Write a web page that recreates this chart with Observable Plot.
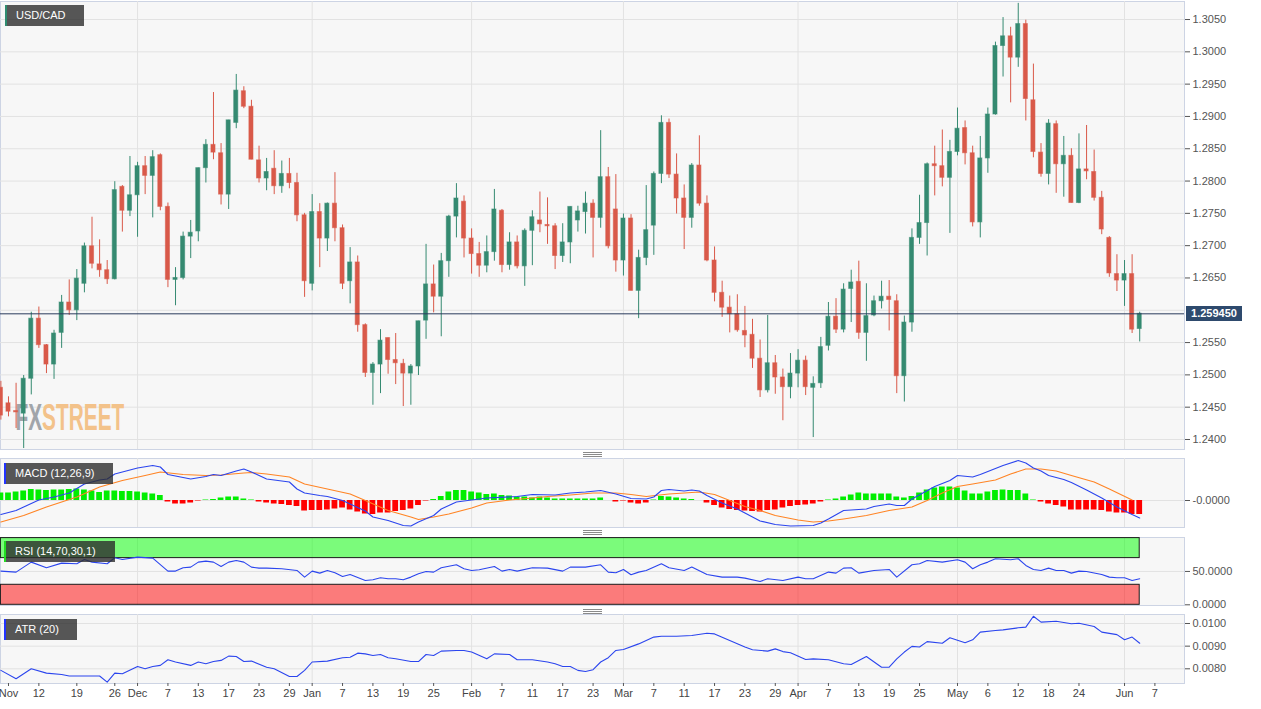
<!DOCTYPE html>
<html>
<head>
<meta charset="utf-8">
<script src="https://cdn.jsdelivr.net/npm/d3@7"></script>
<script src="https://cdn.jsdelivr.net/npm/@observablehq/plot@0.6"></script>
<style>
html,body{margin:0;padding:0;background:#ffffff;}
#wrap{position:relative;width:1261px;height:709px;overflow:hidden;font-family:"Liberation Sans",Arial,sans-serif;}
#wrap > svg{position:absolute;left:0;overflow:visible;background:transparent;}
.tag{position:absolute;height:21px;line-height:21px;color:#fff;font-size:11px;background:rgba(45,45,45,0.8);padding-left:11px;box-sizing:border-box;white-space:nowrap;}
.tag i{position:absolute;left:0;top:0;width:2px;height:100%;}
.handle{position:absolute;left:583px;width:19px;height:3px;border-top:1px solid #8a8a8a;border-bottom:1px solid #8a8a8a;}
.handle::after{content:"";position:absolute;left:0;right:0;top:1px;border-top:1px solid #8a8a8a;}
.plabel{position:absolute;left:1186px;width:56px;height:15px;line-height:15px;background:#2e4a6d;color:#fff;font-size:11px;font-weight:bold;text-align:center;}
</style>
</head>
<body>
<div id="wrap"></div>
<script>
// ---------- DATA ----------
// daily candles, index 0 = 2021-11-05 ... index 150 = 2022-06-03
const openP = [1.2480,1.2456,1.2444,1.2440,1.2494,1.2587,1.2546,1.2516,1.2565,1.2612,1.2600,1.2641,1.2699,1.2671,1.2662,1.2648,1.2791,1.2754,1.2778,1.2823,1.2808,1.2840,1.2760,1.2647,1.2650,1.2714,1.2722,1.2820,1.2856,1.2843,1.2779,1.2890,1.2939,1.2915,1.2832,1.2804,1.2819,1.2792,1.2811,1.2797,1.2747,1.2641,1.2752,1.2711,1.2765,1.2727,1.2645,1.2674,1.2577,1.2503,1.2516,1.2557,1.2523,1.2517,1.2502,1.2513,1.2584,1.2640,1.2621,1.2676,1.2745,1.2768,1.2711,1.2687,1.2669,1.2690,1.2754,1.2670,1.2705,1.2668,1.2723,1.2739,1.2732,1.2730,1.2684,1.2705,1.2739,1.2752,1.2765,1.2743,1.2806,1.2756,1.2677,1.2742,1.2630,1.2681,1.2731,1.2811,1.2890,1.2810,1.2773,1.2743,1.2824,1.2765,1.2677,1.2627,1.2604,1.2594,1.2568,1.2562,1.2525,1.2476,1.2518,1.2496,1.2481,1.2502,1.2522,1.2480,1.2487,1.2545,1.2590,1.2570,1.2633,1.2644,1.2565,1.2592,1.2614,1.2621,1.2614,1.2498,1.2581,1.2712,1.2735,1.2826,1.2823,1.2805,1.2845,1.2882,1.2843,1.2736,1.2835,1.2903,1.3009,1.3024,1.2991,1.3043,1.2925,1.2844,1.2811,1.2888,1.2826,1.2839,1.2766,1.2818,1.2814,1.2774,1.2712,1.2656,1.2646,1.2656,1.2571];
const highP = [1.2490,1.2466,1.2487,1.2499,1.2597,1.2605,1.2547,1.2569,1.2623,1.2647,1.2663,1.2704,1.2744,1.2709,1.2677,1.2799,1.2793,1.2838,1.2829,1.2838,1.2847,1.2842,1.2766,1.2666,1.2721,1.2739,1.2820,1.2864,1.2937,1.2858,1.2894,1.2965,1.2946,1.2925,1.2854,1.2835,1.2847,1.2831,1.2835,1.2812,1.2750,1.2779,1.2765,1.2766,1.2813,1.2732,1.2697,1.2684,1.2579,1.2519,1.2570,1.2557,1.2564,1.2524,1.2516,1.2583,1.2702,1.2670,1.2688,1.2747,1.2796,1.2777,1.2726,1.2705,1.2715,1.2787,1.2756,1.2720,1.2715,1.2726,1.2754,1.2783,1.2774,1.2734,1.2734,1.2760,1.2761,1.2783,1.2771,1.2878,1.2821,1.2810,1.2749,1.2748,1.2693,1.2793,1.2814,1.2901,1.2896,1.2842,1.2794,1.2827,1.2870,1.2777,1.2698,1.2645,1.2622,1.2624,1.2606,1.2586,1.2554,1.2592,1.2530,1.2509,1.2533,1.2539,1.2529,1.2497,1.2558,1.2612,1.2618,1.2641,1.2662,1.2676,1.2641,1.2622,1.2645,1.2646,1.2624,1.2591,1.2726,1.2778,1.2828,1.2854,1.2879,1.2863,1.2913,1.2893,1.2854,1.2869,1.2913,1.3015,1.3053,1.3038,1.3075,1.3049,1.2981,1.2858,1.2895,1.2893,1.2869,1.2850,1.2873,1.2886,1.2848,1.2784,1.2714,1.2686,1.2677,1.2686,1.2597];
const lowP = [1.2430,1.2435,1.2417,1.2386,1.2469,1.2541,1.2502,1.2493,1.2541,1.2592,1.2584,1.2627,1.2664,1.2651,1.2640,1.2647,1.2721,1.2745,1.2713,1.2779,1.2743,1.2754,1.2635,1.2607,1.2647,1.2680,1.2706,1.2797,1.2833,1.2763,1.2756,1.2881,1.2912,1.2833,1.2797,1.2785,1.2779,1.2781,1.2788,1.2737,1.2620,1.2630,1.2666,1.2691,1.2706,1.2632,1.2610,1.2566,1.2496,1.2453,1.2471,1.2501,1.2485,1.2451,1.2453,1.2499,1.2555,1.2596,1.2559,1.2651,1.2712,1.2681,1.2656,1.2651,1.2658,1.2676,1.2658,1.2662,1.2664,1.2637,1.2669,1.2720,1.2702,1.2663,1.2674,1.2672,1.2721,1.2718,1.2681,1.2727,1.2695,1.2659,1.2653,1.2630,1.2587,1.2669,1.2685,1.2796,1.2804,1.2749,1.2694,1.2727,1.2761,1.2675,1.2613,1.2589,1.2565,1.2566,1.2542,1.2510,1.2465,1.2472,1.2470,1.2429,1.2463,1.2480,1.2468,1.2403,1.2479,1.2537,1.2564,1.2565,1.2581,1.2555,1.2521,1.2590,1.2602,1.2568,1.2471,1.2458,1.2566,1.2702,1.2684,1.2777,1.2791,1.2719,1.2839,1.2825,1.2729,1.2712,1.2812,1.2902,1.2961,1.2921,1.2976,1.2893,1.2836,1.2806,1.2794,1.2781,1.2775,1.2766,1.2765,1.2802,1.2769,1.2717,1.2651,1.2629,1.2606,1.2564,1.2551];
const closeP = [1.2437,1.2443,1.2442,1.2494,1.2587,1.2546,1.2516,1.2564,1.2612,1.2600,1.2649,1.2699,1.2672,1.2662,1.2648,1.2786,1.2754,1.2778,1.2823,1.2808,1.2837,1.2760,1.2647,1.2650,1.2714,1.2720,1.2820,1.2856,1.2844,1.2779,1.2894,1.2940,1.2915,1.2833,1.2804,1.2814,1.2792,1.2811,1.2797,1.2747,1.2645,1.2752,1.2711,1.2765,1.2727,1.2641,1.2674,1.2577,1.2503,1.2516,1.2553,1.2523,1.2518,1.2502,1.2513,1.2583,1.2640,1.2621,1.2676,1.2745,1.2773,1.2711,1.2687,1.2669,1.2690,1.2756,1.2670,1.2705,1.2668,1.2723,1.2744,1.2733,1.2730,1.2684,1.2705,1.2760,1.2753,1.2765,1.2743,1.2806,1.2699,1.2677,1.2742,1.2630,1.2681,1.2724,1.2811,1.2890,1.2810,1.2773,1.2743,1.2824,1.2765,1.2677,1.2627,1.2604,1.2594,1.2569,1.2561,1.2525,1.2476,1.2518,1.2496,1.2481,1.2502,1.2522,1.2481,1.2486,1.2543,1.2590,1.2570,1.2632,1.2643,1.2565,1.2591,1.2614,1.2621,1.2616,1.2498,1.2581,1.2712,1.2735,1.2826,1.2823,1.2805,1.2845,1.2881,1.2843,1.2736,1.2835,1.2903,1.3009,1.3024,1.2991,1.3043,1.2927,1.2845,1.2811,1.2889,1.2826,1.2839,1.2766,1.2818,1.2815,1.2774,1.2725,1.2657,1.2646,1.2656,1.2570,1.25945];

// MACD histogram (one bar per day)
const macdHist = [0.0015,0.0015,0.0017,0.0019,0.0022,0.0021,0.0020,0.0021,0.0021,0.0022,
0.0023,0.0021,0.0019,0.0016,0.0019,0.0019,0.0018,0.0018,0.0017,0.0015,
0.0013,0.0010,-0.0003,-0.0007,-0.0007,-0.0005,-0.0001,0.0001,0.0002,0.0005,
0.0007,0.0007,0.0003,0.0001,-0.0003,-0.0005,-0.0007,-0.0008,-0.0010,-0.0012,
-0.0021,-0.0020,-0.0020,-0.0019,-0.0017,-0.0015,-0.0019,-0.0023,-0.0027,-0.0028,
-0.0025,-0.0025,-0.0022,-0.0020,-0.0017,-0.0010,-0.0001,0.0002,0.0008,0.0017,
0.0020,0.0020,0.0017,0.0015,0.0012,0.0013,0.0010,0.0009,0.0007,0.0007,
0.0005,0.0007,0.0005,0.0003,0.0003,0.0003,0.0003,0.0003,0.0003,0.0005,
0.0000,-0.0003,-0.0001,-0.0005,-0.0007,-0.0005,0.0001,0.0008,0.0007,0.0005,
0.0003,0.0002,0.0000,-0.0005,-0.0010,-0.0015,-0.0018,-0.0020,-0.0021,-0.0022,
-0.0023,-0.0020,-0.0019,-0.0015,-0.0012,-0.0010,-0.0009,-0.0007,-0.0003,0.0001,
0.0003,0.0007,0.0011,0.0015,0.0013,0.0013,0.0013,0.0013,0.0007,0.0005,
0.0008,0.0015,0.0021,0.0025,0.0027,0.0027,0.0025,0.0019,0.0013,0.0013,
0.0017,0.0020,0.0021,0.0020,0.0020,0.0013,0.0001,-0.0003,-0.0007,-0.0010,
-0.0013,-0.0019,-0.0019,-0.0019,-0.0019,-0.0020,-0.0023,-0.0025,-0.0025,-0.0028,
-0.0028];

// [day index, value] readings of the indicator lines
const macdLine = [[0,-0.0028],[2,-0.0020],[3,-0.0013],[5,0.0001],[7,0.0007],[9,0.0015],[11,0.0033],[13,0.0041],[14,0.0043],[15,0.0053],[18,0.0065],[20,0.0070],[21,0.0067],[22,0.0052],[25,0.0043],[27,0.0048],[28,0.0052],[29,0.0050],[31,0.0059],[32,0.0063],[33,0.0057],[35,0.0043],[38,0.0037],[39,0.0023],[40,0.0015],[42,0.0010],[43,0.0008],[45,0.0000],[46,-0.0007],[48,-0.0021],[49,-0.0033],[51,-0.0040],[53,-0.0050],[54,-0.0051],[55,-0.0043],[57,-0.0030],[58,-0.0017],[60,-0.0003],[62,0.0001],[64,0.0005],[68,0.0008],[70,0.0012],[73,0.0011],[75,0.0015],[77,0.0017],[79,0.0020],[81,0.0013],[83,0.0004],[85,0.0003],[86,0.0007],[87,0.0020],[88,0.0022],[90,0.0019],[91,0.0021],[92,0.0019],[93,0.0010],[95,-0.0005],[97,-0.0017],[98,-0.0025],[100,-0.0041],[102,-0.0048],[104,-0.0051],[107,-0.0050],[108,-0.0045],[109,-0.0037],[111,-0.0020],[114,-0.0017],[115,-0.0012],[117,-0.0007],[118,-0.0010],[119,-0.0010],[120,0.0003],[123,0.0028],[125,0.0040],[126,0.0050],[128,0.0047],[129,0.0052],[132,0.0070],[134,0.0080],[135,0.0075],[136,0.0065],[137,0.0059],[138,0.0050],[140,0.0042],[141,0.0036],[143,0.0021],[145,0.0005],[147,-0.0013],[149,-0.0028],[150,-0.0035]];
const signalLine = [[0,-0.0043],[3,-0.0030],[6,-0.0013],[10,0.0007],[13,0.0027],[16,0.0040],[19,0.0050],[21,0.0057],[24,0.0052],[27,0.0050],[29,0.0051],[32,0.0055],[33,0.0056],[35,0.0053],[38,0.0047],[40,0.0033],[43,0.0023],[46,0.0013],[48,0.0000],[51,-0.0020],[54,-0.0033],[55,-0.0038],[57,-0.0033],[59,-0.0027],[62,-0.0015],[64,-0.0005],[67,0.0001],[70,0.0005],[72,0.0008],[75,0.0011],[78,0.0015],[81,0.0015],[83,0.0012],[85,0.0008],[88,0.0013],[92,0.0017],[94,0.0012],[96,0.0000],[98,-0.0012],[100,-0.0020],[102,-0.0030],[105,-0.0039],[107,-0.0043],[109,-0.0041],[111,-0.0037],[114,-0.0030],[117,-0.0020],[120,-0.0013],[122,0.0000],[124,0.0015],[126,0.0028],[128,0.0033],[131,0.0041],[133,0.0053],[135,0.0063],[137,0.0063],[139,0.0059],[141,0.0050],[144,0.0037],[146,0.0023],[149,0.0001]];
const rsiLine = [[0,50.5],[2,49],[4,64],[6,55.5],[8,62.5],[10,61.5],[11,68],[12,64],[14,61.5],[15,70.5],[16,68],[18,71.5],[20,70],[22,50.5],[23,50.5],[24,55.5],[25,56.5],[26,64],[27,65.5],[28,64],[29,57.5],[30,64],[31,66.5],[32,64],[33,56.5],[34,55],[35,55],[37,54],[39,51.5],[40,41.5],[41,50.5],[42,47.5],[43,51.5],[44,48],[45,42.5],[46,45.5],[48,36.5],[49,37.5],[50,40.5],[51,39],[52,39],[53,37.5],[54,41.5],[55,46.5],[56,50],[57,49],[58,55.5],[60,60],[61,54],[62,51.5],[63,52.5],[65,57.5],[66,50.5],[67,53],[68,50.5],[70,55.5],[72,55],[74,50.5],[75,56.5],[77,56.5],[79,60],[80,49],[81,48],[82,53],[83,45],[84,49],[85,51.5],[87,61.5],[88,55.5],[90,51.5],[91,56.5],[93,45.5],[95,41.5],[97,41.5],[98,40],[100,35],[101,39],[103,36.5],[105,41.5],[106,39],[107,39],[109,49],[110,47.5],[111,55],[112,55.5],[113,47.5],[115,51.5],[117,53],[118,41.5],[120,60],[121,61.5],[122,66.5],[124,64],[126,67.5],[127,64],[128,54],[129,60],[130,64],[131,69],[133,67.5],[134,69],[135,59],[136,53],[137,51.5],[138,55],[139,51.5],[140,51.5],[141,47.5],[142,50.5],[143,50],[145,45.5],[146,41.5],[147,40.5],[148,40.5],[149,36.5],[150,39]];
const atrLine = [[0,0.00793],[2,0.00756],[4,0.0080],[6,0.00781],[8,0.00775],[9,0.00768],[11,0.00768],[13,0.00768],[14,0.00741],[15,0.00781],[16,0.00778],[18,0.0081],[19,0.0080],[20,0.0081],[21,0.00815],[22,0.0084],[23,0.0083],[25,0.00815],[26,0.0083],[27,0.00822],[28,0.00832],[29,0.00837],[30,0.00856],[31,0.00854],[32,0.00832],[33,0.00834],[35,0.00807],[36,0.0080],[38,0.00766],[39,0.00766],[40,0.00793],[41,0.0083],[43,0.00834],[45,0.00849],[46,0.00851],[47,0.00869],[48,0.00866],[49,0.00859],[50,0.00863],[51,0.00849],[52,0.00844],[54,0.00832],[55,0.00832],[56,0.00863],[57,0.00859],[58,0.00878],[60,0.00881],[61,0.00881],[62,0.00874],[64,0.00844],[65,0.00866],[67,0.00863],[68,0.0084],[70,0.0084],[72,0.0083],[73,0.00822],[74,0.0081],[75,0.0081],[76,0.00793],[77,0.00788],[78,0.00796],[79,0.0083],[80,0.00849],[81,0.00881],[82,0.00885],[84,0.0091],[86,0.0094],[87,0.00944],[89,0.00944],[91,0.00947],[93,0.00957],[94,0.00954],[96,0.00925],[98,0.00896],[99,0.00884],[101,0.00878],[102,0.00888],[103,0.00876],[104,0.00871],[106,0.00841],[107,0.00844],[109,0.0084],[111,0.00822],[112,0.00819],[114,0.00854],[116,0.00807],[117,0.00807],[118,0.00844],[119,0.00874],[120,0.00899],[121,0.00896],[122,0.0092],[124,0.00913],[125,0.00937],[127,0.00915],[128,0.00928],[129,0.00962],[131,0.00969],[132,0.00972],[134,0.00981],[135,0.00984],[136,0.01032],[137,0.01006],[139,0.0101],[141,0.00999],[142,0.01001],[144,0.00987],[145,0.00962],[147,0.00951],[148,0.00928],[149,0.0094],[150,0.00913]];

const lastPrice = 1.25945;
const priceGrid = [1.2400,1.2450,1.2500,1.2550,1.2600,1.2650,1.2700,1.2750,1.2800,1.2850,1.2900,1.2950,1.3000,1.3050];
// 1.2600 label is hidden under the current-price tag in the reference
const priceTickLabels = [1.2400,1.2450,1.2500,1.2550,1.2650,1.2700,1.2750,1.2800,1.2850,1.2900,1.2950,1.3000,1.3050];
const monthStarts = [18,41,62,82,105,126,148];
const dateTickIdx = [1,5,10,15,18,22,26,30,34,38,41,45,49,53,57,62,66,70,74,78,82,86,90,94,98,102,105,109,113,117,121,126,130,134,138,142,148,152];
const dateTickLabels = ["Nov","12","19","26","Dec","7","13","17","23","29","Jan","7","13","19","25","Feb","7","11","17","23","Mar","7","11","17","23","29","Apr","7","13","19","25","May","6","12","18","24","Jun","7"];

// ---------- BUILD ----------
const UP = "#358a71", DN = "#d95949";
const GRID = "#e2e2e2", BORDER = "#cdd4e4", BG = "#f7f7f7";
const W = 1261, XD = [-0.053, 155.9];
const wrap = document.getElementById("wrap");

const candles = openP.map((o, i) => ({i, o, h: highP[i], l: lowP[i], c: closeP[i]}));
const hist = macdHist.map((v, i) => ({i, v}));
const lastIdx = candles.length - 1;
const labelMap = new Map(dateTickIdx.map((d, k) => [d, dateTickLabels[k]]));

function panel(top, height, mt, mb, ydomain, marks) {
  const p = Plot.plot({
    width: W, height, marginTop: mt, marginBottom: mb, marginLeft: 0, marginRight: 77,
    x: {type: "linear", domain: XD, axis: null},
    y: {type: "linear", domain: ydomain, axis: null},
    style: {background: "transparent", color: "#555", fontFamily: "'Liberation Sans', Arial, sans-serif", fontSize: "11px", overflow: "visible"},
    marks
  });
  p.style.top = top + "px";
  wrap.appendChild(p);
  return p;
}
const rightAxis = (ticks, fmt) => Plot.axisY({anchor: "right", ticks, tickFormat: fmt, tickSize: 5, tickPadding: 3, label: null});
const f4 = d => d.toFixed(4);

// Main price panel
const main = panel(0, 450, 1, 1, [1.23845, 1.30779], [
  Plot.frame({fill: BG, stroke: BORDER}),
  Plot.ruleY(priceGrid, {stroke: GRID}),
  Plot.ruleX(monthStarts, {stroke: GRID}),
  Plot.text(["FXSTREET"], {text: d => d, frameAnchor: "top-left", dx: 15, dy: 402, textAnchor: "start", lineAnchor: "top", fill: "#a1a5aa", fontSize: 37, fontWeight: "bold", fontFamily: "'Liberation Sans Narrow', 'Liberation Sans', sans-serif"}),
  Plot.ruleX(candles, {x: "i", y1: "l", y2: "h", stroke: d => d.c >= d.o ? UP : DN, strokeWidth: 1}),
  Plot.rect(candles, {x1: d => d.i - 0.27, x2: d => d.i + 0.27, y1: "o", y2: "c", fill: d => d.c >= d.o ? UP : DN, stroke: d => d.c >= d.o ? UP : DN, strokeOpacity: 0.55, strokeWidth: 1}),
  Plot.ruleY([lastPrice], {stroke: "#2a3b5c", strokeWidth: 1}),
  rightAxis(priceTickLabels, f4)
]);
// two-tone condensed watermark as one text element, squeezed with a transform
d3.select(main).selectAll("text").each(function () {
  if (this.textContent === "FXSTREET") {
    const t = d3.select(this);
    t.text(null);
    t.append("tspan").attr("fill", "#a1a5aa").text("FX");
    t.append("tspan").attr("fill", "#f3c28a").text("STREET");
    const bb = this.getBBox();
    const s = 109 / bb.width;
    const prev = this.getAttribute("transform") || "";
    t.attr("transform", prev + " translate(" + bb.x + ",0) scale(" + s + ",1) translate(" + (-bb.x) + ",0)");
  }
});

// MACD panel
panel(457, 71, 1, 1, [-0.0054, 0.0084], [
  Plot.frame({fill: BG, stroke: BORDER}),
  Plot.ruleY([0], {stroke: GRID}),
  Plot.ruleX(monthStarts, {stroke: GRID}),
  Plot.rect(hist, {x1: d => d.i - 0.38, x2: d => d.i + 0.38, y1: 0, y2: "v", fill: d => d.v >= 0 ? "#00ee00" : "#ff0000"}),
  Plot.line(signalLine, {x: d => d[0], y: d => d[1], stroke: "#ff8424", strokeWidth: 1.1}),
  Plot.line(macdLine, {x: d => d[0], y: d => d[1], stroke: "#2b45ee", strokeWidth: 1.1}),
  rightAxis([0], () => "-0.0000")
]);

// RSI panel
panel(536, 70, 1, 1, [-1.05, 100.9], [
  Plot.frame({fill: BG, stroke: BORDER}),
  Plot.ruleY([50], {stroke: GRID}),
  Plot.ruleX(monthStarts, {stroke: GRID}),
  Plot.rect([{a: 70, b: 100}], {x1: () => candles[0].i, x2: () => candles[lastIdx].i, y1: "a", y2: "b", fill: "#00ff00", fillOpacity: 0.5, stroke: "#1b1b1b", strokeWidth: 1}),
  Plot.rect([{a: 0, b: 30}], {x1: () => candles[0].i, x2: () => candles[lastIdx].i, y1: "a", y2: "b", fill: "#ff0000", fillOpacity: 0.5, stroke: "#1b1b1b", strokeWidth: 1}),
  Plot.line(rsiLine, {x: d => d[0], y: d => d[1], stroke: "#2b45ee", strokeWidth: 1.1}),
  rightAxis([0, 50], f4)
]);

// ATR panel + date axis
panel(613, 96, 1, 26, [0.007351, 0.010397], [
  Plot.frame({fill: BG, stroke: BORDER}),
  Plot.ruleY([0.008, 0.009, 0.010], {stroke: GRID}),
  Plot.ruleX(monthStarts, {stroke: GRID}),
  Plot.line(atrLine, {x: d => d[0], y: d => d[1], stroke: "#2b45ee", strokeWidth: 1.1}),
  rightAxis([0.008, 0.009, 0.010], f4),
  Plot.axisX({anchor: "bottom", ticks: dateTickIdx, tickFormat: d => labelMap.get(d), tickSize: 3, tickPadding: 3, label: null, fill: "#444"})
]);

// overlay labels
function tag(left, top, width, text, accent) {
  const d = document.createElement("div");
  d.className = "tag";
  d.style.left = left + "px"; d.style.top = top + "px"; d.style.width = width + "px";
  d.innerHTML = '<i style="background:' + accent + '"></i>' + text;
  wrap.appendChild(d);
}
tag(5, 5, 79, "USD/CAD", "#2f8c70");
tag(4, 463, 109, "MACD (12,26,9)", "#2233ff");
tag(4, 541, 111, "RSI (14,70,30,1)", "#22dd22");
tag(4, 619, 73, "ATR (20)", "#2233ff");

[452, 530, 609].forEach(t => {
  const h = document.createElement("div");
  h.className = "handle"; h.style.top = t + "px";
  wrap.appendChild(h);
});

const yMain = main.scale("y");
const pl = document.createElement("div");
pl.className = "plabel";
pl.style.top = (yMain.apply(lastPrice) - 7.5) + "px";
pl.textContent = lastPrice.toFixed(6);
wrap.appendChild(pl);
</script>
</body>
</html>
